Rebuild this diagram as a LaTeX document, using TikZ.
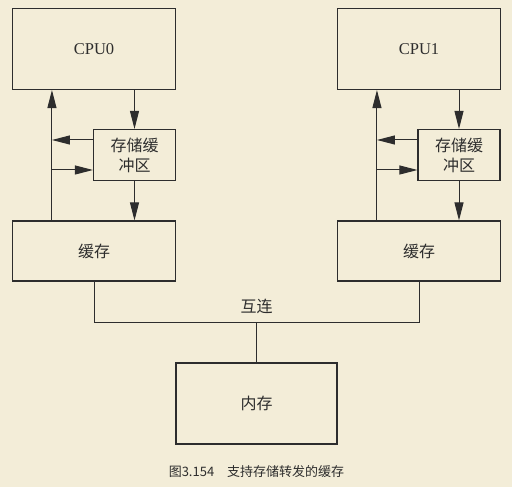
\documentclass[tikz,border=0pt]{standalone}
\usepackage{fontspec}
\setmainfont{Liberation Serif}
\newfontfamily\cjk{Noto Sans CJK SC}
\usetikzlibrary{arrows.meta}
\definecolor{paper}{RGB}{243,237,216}
\definecolor{ink}{RGB}{45,45,45}

\begin{document}
\begin{tikzpicture}[x=1pt,y=1pt,->,>={Triangle[length=18pt,width=9pt]},
  line width=1pt,draw=ink,
  box/.style={rectangle,draw=ink,line width=1.1pt,inner sep=0pt,text=ink,
    font=\fontsize{16.5}{20}\selectfont},
  cn/.style={font=\cjk\fontsize{16}{20}\selectfont,align=center}]
  \useasboundingbox (0,0) rectangle (512,487);
  \fill[paper] (0,0) rectangle (512,487);
  % processors, store buffers and caches
  \node[box, minimum width=163pt, minimum height=81pt] (cpu0) at (94,438) {CPU0};
  \node[box, minimum width=163pt, minimum height=81pt] (cpu1) at (419,438) {CPU1};
  \node[box, cn, minimum width=82pt, minimum height=51pt] (buf0) at (134.5,332) {存储缓\\冲区};
  \node[box, cn, minimum width=82pt, minimum height=51pt] (buf1) at (459,332) {存储缓\\冲区};
  \node[box, cn, minimum width=163pt, minimum height=60pt] (cache0) at (94,236) {缓存};
  \node[box, cn, minimum width=163pt, minimum height=60pt] (cache1) at (419,236) {缓存};
  \node[box, cn, minimum width=161pt, minimum height=81pt] (mem) at (256.5,83.5) {内存};
  \foreach \i in {0,1} {
    \coordinate (up\i) at ([xshift=40pt]cache\i.north west);
    \coordinate (fwd\i) at ([yshift=15pt]buf\i.west);
    \coordinate (put\i) at ([yshift=-15pt]buf\i.west);
    \draw (up\i) -- (up\i |- cpu\i.south);
    \draw (buf\i.north |- cpu\i.south) -- (buf\i.north);
    \draw (buf\i.south) -- (buf\i.south |- cache\i.north);
    \draw (fwd\i) -- (fwd\i -| up\i);
    \draw (put\i -| up\i) -- (put\i);
  }
  % interconnect
  \coordinate (bus) at (256.5,164.3);
  \draw[-] (cache0.south) |- (bus) -| (cache1.south);
  \draw[-] (bus) -- (mem.north);
  \node[cn, text=ink] (link) at (256.5,181) {互连};
  \node[font=\cjk\fontsize{13}{15}\selectfont, text=ink] (caption) at (256.5,15)
    {图3.154　支持存储转发的缓存};
\end{tikzpicture}
\end{document}
